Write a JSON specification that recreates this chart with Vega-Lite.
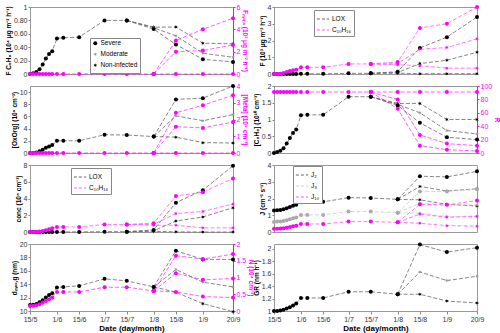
{
"$schema":"https://vega.github.io/schema/vega-lite/v6.json",
"padding":{"left":4,"top":2,"right":0,"bottom":0},
"config":{"font":"Liberation Sans","view":{"stroke":"#999999","strokeWidth":1},
"axis":{"labelFontSize":7,"titleFontSize":6.5,"titleFontWeight":"bold","grid":false,"tickSize":2,"tickColor":"#888888","domain":false,"labelColor":"#333333","titlePadding":2,"labelPadding":1,"labelFlush":false}},
"data":{"values":[
{"p":"a","k":"F","s":"All","d":"2021/05/15","v":0},{"p":"a","k":"F","s":"All","d":"2021/05/17","v":0.01},{"p":"a","k":"F","s":"All","d":"2021/05/19","v":0.03},{"p":"a","k":"F","s":"All","d":"2021/05/21","v":0.07},{"p":"a","k":"F","s":"All","d":"2021/05/23","v":0.14},{"p":"a","k":"F","s":"All","d":"2021/05/25","v":0.23},{"p":"a","k":"F","s":"All","d":"2021/05/27","v":0.30},{"p":"a","k":"F","s":"All","d":"2021/05/29","v":0.34},{"p":"a","k":"F","s":"All","d":"2021/06/01","v":0.53},{"p":"a","k":"F","s":"All","d":"2021/06/05","v":0.54},{"p":"a","k":"F","s":"All","d":"2021/06/15","v":0.55},{"p":"a","k":"F","s":"All","d":"2021/07/01","v":0.80},{"p":"a","k":"F","s":"All","d":"2021/07/15","v":0.80},
{"p":"a","k":"F","s":"Non-infected","d":"2021/07/15","v":0.80},{"p":"a","k":"F","s":"Non-infected","d":"2021/08/01","v":0.70},{"p":"a","k":"F","s":"Non-infected","d":"2021/08/15","v":0.70},{"p":"a","k":"F","s":"Non-infected","d":"2021/09/01","v":0.46},{"p":"a","k":"F","s":"Non-infected","d":"2021/09/20","v":0.45},
{"p":"a","k":"F","s":"Moderate","d":"2021/07/15","v":0.80},{"p":"a","k":"F","s":"Moderate","d":"2021/08/01","v":0.69},{"p":"a","k":"F","s":"Moderate","d":"2021/08/15","v":0.57},{"p":"a","k":"F","s":"Moderate","d":"2021/09/01","v":0.31},{"p":"a","k":"F","s":"Moderate","d":"2021/09/20","v":0.25},
{"p":"a","k":"F","s":"Severe","d":"2021/07/15","v":0.80},{"p":"a","k":"F","s":"Severe","d":"2021/08/01","v":0.67},{"p":"a","k":"F","s":"Severe","d":"2021/08/15","v":0.44},{"p":"a","k":"F","s":"Severe","d":"2021/09/01","v":0.22},{"p":"a","k":"F","s":"Severe","d":"2021/09/20","v":0.18},
{"p":"a","k":"M","s":"All","d":"2021/05/15","v":0},{"p":"a","k":"M","s":"All","d":"2021/05/17","v":0},{"p":"a","k":"M","s":"All","d":"2021/05/19","v":0},{"p":"a","k":"M","s":"All","d":"2021/05/21","v":0},{"p":"a","k":"M","s":"All","d":"2021/05/23","v":0},{"p":"a","k":"M","s":"All","d":"2021/05/25","v":0},{"p":"a","k":"M","s":"All","d":"2021/05/27","v":0},{"p":"a","k":"M","s":"All","d":"2021/05/29","v":0},{"p":"a","k":"M","s":"All","d":"2021/06/01","v":0},{"p":"a","k":"M","s":"All","d":"2021/06/05","v":0},{"p":"a","k":"M","s":"All","d":"2021/06/15","v":0},{"p":"a","k":"M","s":"All","d":"2021/07/01","v":0},{"p":"a","k":"M","s":"All","d":"2021/07/15","v":0},{"p":"a","k":"M","s":"All","d":"2021/08/01","v":0},
{"p":"a","k":"M","s":"Non-infected","d":"2021/08/01","v":0},{"p":"a","k":"M","s":"Non-infected","d":"2021/08/15","v":0},{"p":"a","k":"M","s":"Non-infected","d":"2021/09/01","v":0},{"p":"a","k":"M","s":"Non-infected","d":"2021/09/20","v":0},
{"p":"a","k":"M","s":"Moderate","d":"2021/08/01","v":0},{"p":"a","k":"M","s":"Moderate","d":"2021/08/15","v":2.0},{"p":"a","k":"M","s":"Moderate","d":"2021/09/01","v":2.1},{"p":"a","k":"M","s":"Moderate","d":"2021/09/20","v":2.6},
{"p":"a","k":"M","s":"Severe","d":"2021/08/01","v":0},{"p":"a","k":"M","s":"Severe","d":"2021/08/15","v":3.0},{"p":"a","k":"M","s":"Severe","d":"2021/09/01","v":4.0},{"p":"a","k":"M","s":"Severe","d":"2021/09/20","v":5.0},

{"p":"b","k":"LOX","s":"All","d":"2021/05/15","v":0},{"p":"b","k":"LOX","s":"All","d":"2021/05/17","v":0},{"p":"b","k":"LOX","s":"All","d":"2021/05/19","v":0},{"p":"b","k":"LOX","s":"All","d":"2021/05/21","v":0},{"p":"b","k":"LOX","s":"All","d":"2021/05/23","v":0},{"p":"b","k":"LOX","s":"All","d":"2021/05/25","v":0},{"p":"b","k":"LOX","s":"All","d":"2021/05/27","v":0},{"p":"b","k":"LOX","s":"All","d":"2021/05/29","v":0},{"p":"b","k":"LOX","s":"All","d":"2021/06/01","v":0.01},{"p":"b","k":"LOX","s":"All","d":"2021/06/05","v":0.01},{"p":"b","k":"LOX","s":"All","d":"2021/06/15","v":0.01},{"p":"b","k":"LOX","s":"All","d":"2021/07/01","v":0.04},{"p":"b","k":"LOX","s":"All","d":"2021/07/15","v":0.04},
{"p":"b","k":"LOX","s":"Non-infected","d":"2021/07/15","v":0.04},{"p":"b","k":"LOX","s":"Non-infected","d":"2021/08/01","v":0.05},{"p":"b","k":"LOX","s":"Non-infected","d":"2021/08/15","v":0.02},{"p":"b","k":"LOX","s":"Non-infected","d":"2021/09/01","v":0.02},{"p":"b","k":"LOX","s":"Non-infected","d":"2021/09/20","v":0.02},
{"p":"b","k":"LOX","s":"Moderate","d":"2021/07/15","v":0.04},{"p":"b","k":"LOX","s":"Moderate","d":"2021/08/01","v":0.09},{"p":"b","k":"LOX","s":"Moderate","d":"2021/08/15","v":0.62},{"p":"b","k":"LOX","s":"Moderate","d":"2021/09/01","v":0.82},{"p":"b","k":"LOX","s":"Moderate","d":"2021/09/20","v":1.3},
{"p":"b","k":"LOX","s":"Severe","d":"2021/07/15","v":0.04},{"p":"b","k":"LOX","s":"Severe","d":"2021/08/01","v":0.14},{"p":"b","k":"LOX","s":"Severe","d":"2021/08/15","v":1.55},{"p":"b","k":"LOX","s":"Severe","d":"2021/09/01","v":2.2},{"p":"b","k":"LOX","s":"Severe","d":"2021/09/20","v":3.4},
{"p":"b","k":"C₁₀H₁₆","s":"All","d":"2021/05/15","v":0},{"p":"b","k":"C₁₀H₁₆","s":"All","d":"2021/05/17","v":0},{"p":"b","k":"C₁₀H₁₆","s":"All","d":"2021/05/19","v":0.02},{"p":"b","k":"C₁₀H₁₆","s":"All","d":"2021/05/21","v":0.06},{"p":"b","k":"C₁₀H₁₆","s":"All","d":"2021/05/23","v":0.12},{"p":"b","k":"C₁₀H₁₆","s":"All","d":"2021/05/25","v":0.18},{"p":"b","k":"C₁₀H₁₆","s":"All","d":"2021/05/27","v":0.22},{"p":"b","k":"C₁₀H₁₆","s":"All","d":"2021/05/29","v":0.26},{"p":"b","k":"C₁₀H₁₆","s":"All","d":"2021/06/01","v":0.40},{"p":"b","k":"C₁₀H₁₆","s":"All","d":"2021/06/05","v":0.40},{"p":"b","k":"C₁₀H₁₆","s":"All","d":"2021/06/15","v":0.40},{"p":"b","k":"C₁₀H₁₆","s":"All","d":"2021/07/01","v":0.60},{"p":"b","k":"C₁₀H₁₆","s":"All","d":"2021/07/15","v":0.60},
{"p":"b","k":"C₁₀H₁₆","s":"Non-infected","d":"2021/07/15","v":0.60},{"p":"b","k":"C₁₀H₁₆","s":"Non-infected","d":"2021/08/01","v":0.55},{"p":"b","k":"C₁₀H₁₆","s":"Non-infected","d":"2021/08/15","v":0.5},{"p":"b","k":"C₁₀H₁₆","s":"Non-infected","d":"2021/09/01","v":0.35},{"p":"b","k":"C₁₀H₁₆","s":"Non-infected","d":"2021/09/20","v":0.35},
{"p":"b","k":"C₁₀H₁₆","s":"Moderate","d":"2021/07/15","v":0.60},{"p":"b","k":"C₁₀H₁₆","s":"Moderate","d":"2021/08/01","v":0.62},{"p":"b","k":"C₁₀H₁₆","s":"Moderate","d":"2021/08/15","v":1.48},{"p":"b","k":"C₁₀H₁₆","s":"Moderate","d":"2021/09/01","v":1.58},{"p":"b","k":"C₁₀H₁₆","s":"Moderate","d":"2021/09/20","v":2.1},
{"p":"b","k":"C₁₀H₁₆","s":"Severe","d":"2021/07/15","v":0.60},{"p":"b","k":"C₁₀H₁₆","s":"Severe","d":"2021/08/01","v":0.72},{"p":"b","k":"C₁₀H₁₆","s":"Severe","d":"2021/08/15","v":2.75},{"p":"b","k":"C₁₀H₁₆","s":"Severe","d":"2021/09/01","v":3.0},{"p":"b","k":"C₁₀H₁₆","s":"Severe","d":"2021/09/20","v":4.0},

{"p":"c","k":"O","s":"All","d":"2021/05/15","v":0},{"p":"c","k":"O","s":"All","d":"2021/05/17","v":0.02},{"p":"c","k":"O","s":"All","d":"2021/05/19","v":0.1},{"p":"c","k":"O","s":"All","d":"2021/05/21","v":0.3},{"p":"c","k":"O","s":"All","d":"2021/05/23","v":0.55},{"p":"c","k":"O","s":"All","d":"2021/05/25","v":0.85},{"p":"c","k":"O","s":"All","d":"2021/05/27","v":1.05},{"p":"c","k":"O","s":"All","d":"2021/05/29","v":1.3},{"p":"c","k":"O","s":"All","d":"2021/06/01","v":2.0},{"p":"c","k":"O","s":"All","d":"2021/06/05","v":2.0},{"p":"c","k":"O","s":"All","d":"2021/06/15","v":2.0},{"p":"c","k":"O","s":"All","d":"2021/07/01","v":3.0},{"p":"c","k":"O","s":"All","d":"2021/07/15","v":2.95},{"p":"c","k":"O","s":"All","d":"2021/08/01","v":2.7},
{"p":"c","k":"O","s":"Non-infected","d":"2021/08/01","v":2.7},{"p":"c","k":"O","s":"Non-infected","d":"2021/08/15","v":2.6},{"p":"c","k":"O","s":"Non-infected","d":"2021/09/01","v":1.7},{"p":"c","k":"O","s":"Non-infected","d":"2021/09/20","v":1.65},
{"p":"c","k":"O","s":"Moderate","d":"2021/08/01","v":2.7},{"p":"c","k":"O","s":"Moderate","d":"2021/08/15","v":6.1},{"p":"c","k":"O","s":"Moderate","d":"2021/09/01","v":5.3},{"p":"c","k":"O","s":"Moderate","d":"2021/09/20","v":6.3},
{"p":"c","k":"O","s":"Severe","d":"2021/08/01","v":2.7},{"p":"c","k":"O","s":"Severe","d":"2021/08/15","v":8.8},{"p":"c","k":"O","s":"Severe","d":"2021/09/01","v":9.0},{"p":"c","k":"O","s":"Severe","d":"2021/09/20","v":11.0},
{"p":"c","k":"M","s":"All","d":"2021/05/15","v":0},{"p":"c","k":"M","s":"All","d":"2021/05/17","v":0},{"p":"c","k":"M","s":"All","d":"2021/05/19","v":0},{"p":"c","k":"M","s":"All","d":"2021/05/21","v":0},{"p":"c","k":"M","s":"All","d":"2021/05/23","v":0},{"p":"c","k":"M","s":"All","d":"2021/05/25","v":0},{"p":"c","k":"M","s":"All","d":"2021/05/27","v":0},{"p":"c","k":"M","s":"All","d":"2021/05/29","v":0},{"p":"c","k":"M","s":"All","d":"2021/06/01","v":0},{"p":"c","k":"M","s":"All","d":"2021/06/05","v":0},{"p":"c","k":"M","s":"All","d":"2021/06/15","v":0},{"p":"c","k":"M","s":"All","d":"2021/07/01","v":0},{"p":"c","k":"M","s":"All","d":"2021/07/15","v":0},{"p":"c","k":"M","s":"All","d":"2021/08/01","v":0},
{"p":"c","k":"M","s":"Non-infected","d":"2021/08/01","v":0},{"p":"c","k":"M","s":"Non-infected","d":"2021/08/15","v":0},{"p":"c","k":"M","s":"Non-infected","d":"2021/09/01","v":0},{"p":"c","k":"M","s":"Non-infected","d":"2021/09/20","v":0},
{"p":"c","k":"M","s":"Moderate","d":"2021/08/01","v":0},{"p":"c","k":"M","s":"Moderate","d":"2021/08/15","v":1.57},{"p":"c","k":"M","s":"Moderate","d":"2021/09/01","v":1.5},{"p":"c","k":"M","s":"Moderate","d":"2021/09/20","v":1.85},
{"p":"c","k":"M","s":"Severe","d":"2021/08/01","v":0},{"p":"c","k":"M","s":"Severe","d":"2021/08/15","v":2.4},{"p":"c","k":"M","s":"Severe","d":"2021/09/01","v":2.85},{"p":"c","k":"M","s":"Severe","d":"2021/09/20","v":3.45},

{"p":"d","k":"C","s":"All","d":"2021/05/15","v":0},{"p":"d","k":"C","s":"All","d":"2021/05/17","v":0.03},{"p":"d","k":"C","s":"All","d":"2021/05/19","v":0.07},{"p":"d","k":"C","s":"All","d":"2021/05/21","v":0.14},{"p":"d","k":"C","s":"All","d":"2021/05/23","v":0.28},{"p":"d","k":"C","s":"All","d":"2021/05/25","v":0.45},{"p":"d","k":"C","s":"All","d":"2021/05/27","v":0.6},{"p":"d","k":"C","s":"All","d":"2021/05/29","v":0.7},{"p":"d","k":"C","s":"All","d":"2021/06/01","v":1.13},{"p":"d","k":"C","s":"All","d":"2021/06/05","v":1.14},{"p":"d","k":"C","s":"All","d":"2021/06/15","v":1.14},{"p":"d","k":"C","s":"All","d":"2021/07/01","v":1.68},{"p":"d","k":"C","s":"All","d":"2021/07/15","v":1.68},
{"p":"d","k":"C","s":"Non-infected","d":"2021/07/15","v":1.68},{"p":"d","k":"C","s":"Non-infected","d":"2021/08/01","v":1.48},{"p":"d","k":"C","s":"Non-infected","d":"2021/08/15","v":1.48},{"p":"d","k":"C","s":"Non-infected","d":"2021/09/01","v":1.0},{"p":"d","k":"C","s":"Non-infected","d":"2021/09/20","v":1.0},
{"p":"d","k":"C","s":"Moderate","d":"2021/07/15","v":1.68},{"p":"d","k":"C","s":"Moderate","d":"2021/08/01","v":1.45},{"p":"d","k":"C","s":"Moderate","d":"2021/08/15","v":1.2},{"p":"d","k":"C","s":"Moderate","d":"2021/09/01","v":0.67},{"p":"d","k":"C","s":"Moderate","d":"2021/09/20","v":0.57},
{"p":"d","k":"C","s":"Severe","d":"2021/07/15","v":1.68},{"p":"d","k":"C","s":"Severe","d":"2021/08/01","v":1.42},{"p":"d","k":"C","s":"Severe","d":"2021/08/15","v":0.9},{"p":"d","k":"C","s":"Severe","d":"2021/09/01","v":0.47},{"p":"d","k":"C","s":"Severe","d":"2021/09/20","v":0.4},
{"p":"d","k":"R","s":"All","d":"2021/05/15","v":91},{"p":"d","k":"R","s":"All","d":"2021/05/17","v":91},{"p":"d","k":"R","s":"All","d":"2021/05/19","v":91},{"p":"d","k":"R","s":"All","d":"2021/05/21","v":91},{"p":"d","k":"R","s":"All","d":"2021/05/23","v":91},{"p":"d","k":"R","s":"All","d":"2021/05/25","v":91},{"p":"d","k":"R","s":"All","d":"2021/05/27","v":91},{"p":"d","k":"R","s":"All","d":"2021/05/29","v":91},{"p":"d","k":"R","s":"All","d":"2021/06/01","v":91},{"p":"d","k":"R","s":"All","d":"2021/06/05","v":91},{"p":"d","k":"R","s":"All","d":"2021/06/15","v":91},{"p":"d","k":"R","s":"All","d":"2021/07/01","v":91},{"p":"d","k":"R","s":"All","d":"2021/07/15","v":91},
{"p":"d","k":"R","s":"Non-infected","d":"2021/07/15","v":91},{"p":"d","k":"R","s":"Non-infected","d":"2021/08/01","v":91},{"p":"d","k":"R","s":"Non-infected","d":"2021/08/15","v":91},{"p":"d","k":"R","s":"Non-infected","d":"2021/09/01","v":91},{"p":"d","k":"R","s":"Non-infected","d":"2021/09/20","v":91},
{"p":"d","k":"R","s":"Moderate","d":"2021/07/15","v":91},{"p":"d","k":"R","s":"Moderate","d":"2021/08/01","v":80},{"p":"d","k":"R","s":"Moderate","d":"2021/08/15","v":27},{"p":"d","k":"R","s":"Moderate","d":"2021/09/01","v":14},{"p":"d","k":"R","s":"Moderate","d":"2021/09/20","v":11},
{"p":"d","k":"R","s":"Severe","d":"2021/07/15","v":91},{"p":"d","k":"R","s":"Severe","d":"2021/08/01","v":66},{"p":"d","k":"R","s":"Severe","d":"2021/08/15","v":11},{"p":"d","k":"R","s":"Severe","d":"2021/09/01","v":5},{"p":"d","k":"R","s":"Severe","d":"2021/09/20","v":3},

{"p":"e","k":"LOX","s":"All","d":"2021/05/15","v":0},{"p":"e","k":"LOX","s":"All","d":"2021/05/17","v":0},{"p":"e","k":"LOX","s":"All","d":"2021/05/19","v":0},{"p":"e","k":"LOX","s":"All","d":"2021/05/21","v":0},{"p":"e","k":"LOX","s":"All","d":"2021/05/23","v":0},{"p":"e","k":"LOX","s":"All","d":"2021/05/25","v":0},{"p":"e","k":"LOX","s":"All","d":"2021/05/27","v":0},{"p":"e","k":"LOX","s":"All","d":"2021/05/29","v":0},{"p":"e","k":"LOX","s":"All","d":"2021/06/01","v":0.01},{"p":"e","k":"LOX","s":"All","d":"2021/06/05","v":0.01},{"p":"e","k":"LOX","s":"All","d":"2021/06/15","v":0.01},{"p":"e","k":"LOX","s":"All","d":"2021/07/01","v":0.04},{"p":"e","k":"LOX","s":"All","d":"2021/07/15","v":0.04},
{"p":"e","k":"LOX","s":"Non-infected","d":"2021/07/15","v":0.04},{"p":"e","k":"LOX","s":"Non-infected","d":"2021/08/01","v":0.08},{"p":"e","k":"LOX","s":"Non-infected","d":"2021/08/15","v":0.02},{"p":"e","k":"LOX","s":"Non-infected","d":"2021/09/01","v":0},{"p":"e","k":"LOX","s":"Non-infected","d":"2021/09/20","v":0},
{"p":"e","k":"LOX","s":"Moderate","d":"2021/07/15","v":0.04},{"p":"e","k":"LOX","s":"Moderate","d":"2021/08/01","v":0.15},{"p":"e","k":"LOX","s":"Moderate","d":"2021/08/15","v":1.3},{"p":"e","k":"LOX","s":"Moderate","d":"2021/09/01","v":1.8},{"p":"e","k":"LOX","s":"Moderate","d":"2021/09/20","v":2.9},
{"p":"e","k":"LOX","s":"Severe","d":"2021/07/15","v":0.04},{"p":"e","k":"LOX","s":"Severe","d":"2021/08/01","v":0.25},{"p":"e","k":"LOX","s":"Severe","d":"2021/08/15","v":3.5},{"p":"e","k":"LOX","s":"Severe","d":"2021/09/01","v":5.0},{"p":"e","k":"LOX","s":"Severe","d":"2021/09/20","v":7.9},
{"p":"e","k":"C₁₀H₁₆","s":"All","d":"2021/05/15","v":0},{"p":"e","k":"C₁₀H₁₆","s":"All","d":"2021/05/17","v":0},{"p":"e","k":"C₁₀H₁₆","s":"All","d":"2021/05/19","v":0.02},{"p":"e","k":"C₁₀H₁₆","s":"All","d":"2021/05/21","v":0.06},{"p":"e","k":"C₁₀H₁₆","s":"All","d":"2021/05/23","v":0.12},{"p":"e","k":"C₁₀H₁₆","s":"All","d":"2021/05/25","v":0.22},{"p":"e","k":"C₁₀H₁₆","s":"All","d":"2021/05/27","v":0.32},{"p":"e","k":"C₁₀H₁₆","s":"All","d":"2021/05/29","v":0.45},{"p":"e","k":"C₁₀H₁₆","s":"All","d":"2021/06/01","v":0.6},{"p":"e","k":"C₁₀H₁₆","s":"All","d":"2021/06/05","v":0.6},{"p":"e","k":"C₁₀H₁₆","s":"All","d":"2021/06/15","v":0.6},{"p":"e","k":"C₁₀H₁₆","s":"All","d":"2021/07/01","v":0.9},{"p":"e","k":"C₁₀H₁₆","s":"All","d":"2021/07/15","v":0.9},
{"p":"e","k":"C₁₀H₁₆","s":"Non-infected","d":"2021/07/15","v":0.9},{"p":"e","k":"C₁₀H₁₆","s":"Non-infected","d":"2021/08/01","v":0.8},{"p":"e","k":"C₁₀H₁₆","s":"Non-infected","d":"2021/08/15","v":0.8},{"p":"e","k":"C₁₀H₁₆","s":"Non-infected","d":"2021/09/01","v":0.5},{"p":"e","k":"C₁₀H₁₆","s":"Non-infected","d":"2021/09/20","v":0.5},
{"p":"e","k":"C₁₀H₁₆","s":"Moderate","d":"2021/07/15","v":0.9},{"p":"e","k":"C₁₀H₁₆","s":"Moderate","d":"2021/08/01","v":0.92},{"p":"e","k":"C₁₀H₁₆","s":"Moderate","d":"2021/08/15","v":2.2},{"p":"e","k":"C₁₀H₁₆","s":"Moderate","d":"2021/09/01","v":2.45},{"p":"e","k":"C₁₀H₁₆","s":"Moderate","d":"2021/09/20","v":3.35},
{"p":"e","k":"C₁₀H₁₆","s":"Severe","d":"2021/07/15","v":0.9},{"p":"e","k":"C₁₀H₁₆","s":"Severe","d":"2021/08/01","v":1.05},{"p":"e","k":"C₁₀H₁₆","s":"Severe","d":"2021/08/15","v":4.3},{"p":"e","k":"C₁₀H₁₆","s":"Severe","d":"2021/09/01","v":4.75},{"p":"e","k":"C₁₀H₁₆","s":"Severe","d":"2021/09/20","v":6.4},

{"p":"f","k":"J₂","s":"All","d":"2021/05/15","v":1.28},{"p":"f","k":"J₂","s":"All","d":"2021/05/17","v":1.3},{"p":"f","k":"J₂","s":"All","d":"2021/05/19","v":1.32},{"p":"f","k":"J₂","s":"All","d":"2021/05/21","v":1.36},{"p":"f","k":"J₂","s":"All","d":"2021/05/23","v":1.42},{"p":"f","k":"J₂","s":"All","d":"2021/05/25","v":1.5},{"p":"f","k":"J₂","s":"All","d":"2021/05/27","v":1.56},{"p":"f","k":"J₂","s":"All","d":"2021/05/29","v":1.62},{"p":"f","k":"J₂","s":"All","d":"2021/06/01","v":1.78},{"p":"f","k":"J₂","s":"All","d":"2021/06/05","v":1.8},{"p":"f","k":"J₂","s":"All","d":"2021/06/15","v":1.8},{"p":"f","k":"J₂","s":"All","d":"2021/07/01","v":2.05},{"p":"f","k":"J₂","s":"All","d":"2021/07/15","v":2.03},{"p":"f","k":"J₂","s":"All","d":"2021/08/01","v":1.95},
{"p":"f","k":"J₂","s":"Non-infected","d":"2021/08/01","v":1.95},{"p":"f","k":"J₂","s":"Non-infected","d":"2021/08/15","v":1.92},{"p":"f","k":"J₂","s":"Non-infected","d":"2021/09/01","v":1.65},{"p":"f","k":"J₂","s":"Non-infected","d":"2021/09/20","v":1.55},
{"p":"f","k":"J₂","s":"Moderate","d":"2021/08/01","v":1.95},{"p":"f","k":"J₂","s":"Moderate","d":"2021/08/15","v":2.72},{"p":"f","k":"J₂","s":"Moderate","d":"2021/09/01","v":2.45},{"p":"f","k":"J₂","s":"Moderate","d":"2021/09/20","v":2.58},
{"p":"f","k":"J₂","s":"Severe","d":"2021/08/01","v":1.95},{"p":"f","k":"J₂","s":"Severe","d":"2021/08/15","v":3.33},{"p":"f","k":"J₂","s":"Severe","d":"2021/09/01","v":3.29},{"p":"f","k":"J₂","s":"Severe","d":"2021/09/20","v":3.62},
{"p":"f","k":"J₃","s":"All","d":"2021/05/15","v":0.6},{"p":"f","k":"J₃","s":"All","d":"2021/05/17","v":0.62},{"p":"f","k":"J₃","s":"All","d":"2021/05/19","v":0.63},{"p":"f","k":"J₃","s":"All","d":"2021/05/21","v":0.66},{"p":"f","k":"J₃","s":"All","d":"2021/05/23","v":0.7},{"p":"f","k":"J₃","s":"All","d":"2021/05/25","v":0.76},{"p":"f","k":"J₃","s":"All","d":"2021/05/27","v":0.82},{"p":"f","k":"J₃","s":"All","d":"2021/05/29","v":0.87},{"p":"f","k":"J₃","s":"All","d":"2021/06/01","v":1.02},{"p":"f","k":"J₃","s":"All","d":"2021/06/05","v":1.02},{"p":"f","k":"J₃","s":"All","d":"2021/06/15","v":1.02},{"p":"f","k":"J₃","s":"All","d":"2021/07/01","v":1.22},{"p":"f","k":"J₃","s":"All","d":"2021/07/15","v":1.22},{"p":"f","k":"J₃","s":"All","d":"2021/08/01","v":1.15},
{"p":"f","k":"J₃","s":"Non-infected","d":"2021/08/01","v":1.15},{"p":"f","k":"J₃","s":"Non-infected","d":"2021/08/15","v":1.12},{"p":"f","k":"J₃","s":"Non-infected","d":"2021/09/01","v":0.92},{"p":"f","k":"J₃","s":"Non-infected","d":"2021/09/20","v":0.95},
{"p":"f","k":"J₃","s":"Moderate","d":"2021/08/01","v":1.15},{"p":"f","k":"J₃","s":"Moderate","d":"2021/08/15","v":1.72},{"p":"f","k":"J₃","s":"Moderate","d":"2021/09/01","v":1.62},{"p":"f","k":"J₃","s":"Moderate","d":"2021/09/20","v":1.62},
{"p":"f","k":"J₃","s":"Severe","d":"2021/08/01","v":1.15},{"p":"f","k":"J₃","s":"Severe","d":"2021/08/15","v":2.42},{"p":"f","k":"J₃","s":"Severe","d":"2021/09/01","v":2.42},{"p":"f","k":"J₃","s":"Severe","d":"2021/09/20","v":2.55},
{"p":"f","k":"J₁₀","s":"All","d":"2021/05/15","v":0.2},{"p":"f","k":"J₁₀","s":"All","d":"2021/05/17","v":0.2},{"p":"f","k":"J₁₀","s":"All","d":"2021/05/19","v":0.21},{"p":"f","k":"J₁₀","s":"All","d":"2021/05/21","v":0.23},{"p":"f","k":"J₁₀","s":"All","d":"2021/05/23","v":0.26},{"p":"f","k":"J₁₀","s":"All","d":"2021/05/25","v":0.3},{"p":"f","k":"J₁₀","s":"All","d":"2021/05/27","v":0.34},{"p":"f","k":"J₁₀","s":"All","d":"2021/05/29","v":0.38},{"p":"f","k":"J₁₀","s":"All","d":"2021/06/01","v":0.48},{"p":"f","k":"J₁₀","s":"All","d":"2021/06/05","v":0.48},{"p":"f","k":"J₁₀","s":"All","d":"2021/06/15","v":0.48},{"p":"f","k":"J₁₀","s":"All","d":"2021/07/01","v":0.62},{"p":"f","k":"J₁₀","s":"All","d":"2021/07/15","v":0.62},{"p":"f","k":"J₁₀","s":"All","d":"2021/08/01","v":0.58},
{"p":"f","k":"J₁₀","s":"Non-infected","d":"2021/08/01","v":0.58},{"p":"f","k":"J₁₀","s":"Non-infected","d":"2021/08/15","v":0.52},{"p":"f","k":"J₁₀","s":"Non-infected","d":"2021/09/01","v":0.38},{"p":"f","k":"J₁₀","s":"Non-infected","d":"2021/09/20","v":0.35},
{"p":"f","k":"J₁₀","s":"Moderate","d":"2021/08/01","v":0.58},{"p":"f","k":"J₁₀","s":"Moderate","d":"2021/08/15","v":1.07},{"p":"f","k":"J₁₀","s":"Moderate","d":"2021/09/01","v":0.88},{"p":"f","k":"J₁₀","s":"Moderate","d":"2021/09/20","v":0.93},
{"p":"f","k":"J₁₀","s":"Severe","d":"2021/08/01","v":0.58},{"p":"f","k":"J₁₀","s":"Severe","d":"2021/08/15","v":1.65},{"p":"f","k":"J₁₀","s":"Severe","d":"2021/09/01","v":1.62},{"p":"f","k":"J₁₀","s":"Severe","d":"2021/09/20","v":1.88},

{"p":"g","k":"D","s":"All","d":"2021/05/15","v":10.9},{"p":"g","k":"D","s":"All","d":"2021/05/17","v":10.95},{"p":"g","k":"D","s":"All","d":"2021/05/19","v":11.05},{"p":"g","k":"D","s":"All","d":"2021/05/21","v":11.3},{"p":"g","k":"D","s":"All","d":"2021/05/23","v":11.6},{"p":"g","k":"D","s":"All","d":"2021/05/25","v":12.0},{"p":"g","k":"D","s":"All","d":"2021/05/27","v":12.4},{"p":"g","k":"D","s":"All","d":"2021/05/29","v":12.65},{"p":"g","k":"D","s":"All","d":"2021/06/01","v":13.5},{"p":"g","k":"D","s":"All","d":"2021/06/05","v":13.6},{"p":"g","k":"D","s":"All","d":"2021/06/15","v":13.75},{"p":"g","k":"D","s":"All","d":"2021/07/01","v":14.8},{"p":"g","k":"D","s":"All","d":"2021/07/15","v":14.5},{"p":"g","k":"D","s":"All","d":"2021/08/01","v":13.6},
{"p":"g","k":"D","s":"Non-infected","d":"2021/08/01","v":13.6},{"p":"g","k":"D","s":"Non-infected","d":"2021/08/15","v":12.8},{"p":"g","k":"D","s":"Non-infected","d":"2021/09/01","v":11.1},{"p":"g","k":"D","s":"Non-infected","d":"2021/09/20","v":9.9},
{"p":"g","k":"D","s":"Moderate","d":"2021/08/01","v":13.6},{"p":"g","k":"D","s":"Moderate","d":"2021/08/15","v":16.2},{"p":"g","k":"D","s":"Moderate","d":"2021/09/01","v":14.3},{"p":"g","k":"D","s":"Moderate","d":"2021/09/20","v":13.6},
{"p":"g","k":"D","s":"Severe","d":"2021/08/01","v":13.6},{"p":"g","k":"D","s":"Severe","d":"2021/08/15","v":19.0},{"p":"g","k":"D","s":"Severe","d":"2021/09/01","v":17.7},{"p":"g","k":"D","s":"Severe","d":"2021/09/20","v":17.7},
{"p":"g","k":"N","s":"All","d":"2021/05/15","v":0.15},{"p":"g","k":"N","s":"All","d":"2021/05/17","v":0.16},{"p":"g","k":"N","s":"All","d":"2021/05/19","v":0.17},{"p":"g","k":"N","s":"All","d":"2021/05/21","v":0.2},{"p":"g","k":"N","s":"All","d":"2021/05/23","v":0.25},{"p":"g","k":"N","s":"All","d":"2021/05/25","v":0.3},{"p":"g","k":"N","s":"All","d":"2021/05/27","v":0.35},{"p":"g","k":"N","s":"All","d":"2021/05/29","v":0.4},{"p":"g","k":"N","s":"All","d":"2021/06/01","v":0.57},{"p":"g","k":"N","s":"All","d":"2021/06/05","v":0.57},{"p":"g","k":"N","s":"All","d":"2021/06/15","v":0.57},{"p":"g","k":"N","s":"All","d":"2021/07/01","v":0.71},{"p":"g","k":"N","s":"All","d":"2021/07/15","v":0.71},{"p":"g","k":"N","s":"All","d":"2021/08/01","v":0.6},
{"p":"g","k":"N","s":"Non-infected","d":"2021/08/01","v":0.6},{"p":"g","k":"N","s":"Non-infected","d":"2021/08/15","v":0.57},{"p":"g","k":"N","s":"Non-infected","d":"2021/09/01","v":0.43},{"p":"g","k":"N","s":"Non-infected","d":"2021/09/20","v":0.4},
{"p":"g","k":"N","s":"Moderate","d":"2021/08/01","v":0.6},{"p":"g","k":"N","s":"Moderate","d":"2021/08/15","v":1.13},{"p":"g","k":"N","s":"Moderate","d":"2021/09/01","v":0.93},{"p":"g","k":"N","s":"Moderate","d":"2021/09/20","v":0.97},
{"p":"g","k":"N","s":"Severe","d":"2021/08/01","v":0.6},{"p":"g","k":"N","s":"Severe","d":"2021/08/15","v":1.65},{"p":"g","k":"N","s":"Severe","d":"2021/09/01","v":1.55},{"p":"g","k":"N","s":"Severe","d":"2021/09/20","v":1.7},

{"p":"h","k":"G","s":"All","d":"2021/05/15","v":1.0},{"p":"h","k":"G","s":"All","d":"2021/05/17","v":1.0},{"p":"h","k":"G","s":"All","d":"2021/05/19","v":1.01},{"p":"h","k":"G","s":"All","d":"2021/05/21","v":1.02},{"p":"h","k":"G","s":"All","d":"2021/05/23","v":1.04},{"p":"h","k":"G","s":"All","d":"2021/05/25","v":1.06},{"p":"h","k":"G","s":"All","d":"2021/05/27","v":1.09},{"p":"h","k":"G","s":"All","d":"2021/05/29","v":1.12},{"p":"h","k":"G","s":"All","d":"2021/06/01","v":1.21},{"p":"h","k":"G","s":"All","d":"2021/06/05","v":1.21},{"p":"h","k":"G","s":"All","d":"2021/06/15","v":1.21},{"p":"h","k":"G","s":"All","d":"2021/07/01","v":1.31},{"p":"h","k":"G","s":"All","d":"2021/07/15","v":1.31},{"p":"h","k":"G","s":"All","d":"2021/08/01","v":1.27},
{"p":"h","k":"G","s":"Non-infected","d":"2021/08/01","v":1.27},{"p":"h","k":"G","s":"Non-infected","d":"2021/08/15","v":1.27},{"p":"h","k":"G","s":"Non-infected","d":"2021/09/01","v":1.16},{"p":"h","k":"G","s":"Non-infected","d":"2021/09/20","v":1.13},
{"p":"h","k":"G","s":"Moderate","d":"2021/08/01","v":1.27},{"p":"h","k":"G","s":"Moderate","d":"2021/08/15","v":1.63},{"p":"h","k":"G","s":"Moderate","d":"2021/09/01","v":1.49},{"p":"h","k":"G","s":"Moderate","d":"2021/09/20","v":1.56},
{"p":"h","k":"G","s":"Severe","d":"2021/08/01","v":1.27},{"p":"h","k":"G","s":"Severe","d":"2021/08/15","v":2.07},{"p":"h","k":"G","s":"Severe","d":"2021/09/01","v":1.95},{"p":"h","k":"G","s":"Severe","d":"2021/09/20","v":2.02}
]},
"columns":2,
"spacing":{"row":12,"column":41},
"bounds":"flush",
"resolve":{"scale":{"color":"independent","fill":"independent","stroke":"independent","shape":"independent"},"legend":{"color":"independent","fill":"independent","stroke":"independent","shape":"independent"}},
"concat":[
{"width":203,"height":67,"transform":[{"filter":"datum.p==='a'"}],
 "layer":[
  {"transform":[{"filter":"datum.k==='F'"}],
   "encoding":{"x":{"field":"d","type":"temporal","scale":{"domain":[{"year":2021,"month":5,"date":15},{"year":2021,"month":9,"date":20}],"nice":false},"axis":null},
     "y":{"field":"v","type":"quantitative","scale":{"domain":[0,1],"nice":false},"axis":{"values":[0,0.2,0.4,0.6,0.8,1],"labelExpr":"datum.value==0||datum.value==1?format(datum.value,'d'):format(datum.value,'.2f')","title":"F C₅H₈ (10⁴ μg m⁻² h⁻¹)"}}},
   "layer":[
    {"mark":{"type":"line","color":"#666666","strokeDash":[4,2],"strokeWidth":0.8},"encoding":{"detail":{"field":"s"}}},
    {"mark":{"type":"point","filled":true,"size":16,"opacity":1},"encoding":{
      "shape":{"field":"s","type":"nominal","scale":{"domain":["Severe","Moderate","Non-infected","All"],"range":["circle","M0,-1L0.22,-0.38L0.87,-0.5L0.44,0L0.87,0.5L0.22,0.38L0,1L-0.22,0.38L-0.87,0.5L-0.44,0L-0.87,-0.5L-0.22,-0.38Z","M0,-1L0.22,-0.38L0.87,-0.5L0.44,0L0.87,0.5L0.22,0.38L0,1L-0.22,0.38L-0.87,0.5L-0.44,0L-0.87,-0.5L-0.22,-0.38Z","circle"]},"legend":{"orient":"none","legendX":60,"legendY":31,"title":null,"values":["Severe","Moderate","Non-infected"],"strokeColor":"#888888","fillColor":"white","padding":2,"labelFontSize":6.5,"symbolSize":16,"rowPadding":0,"labelOffset":2}},
      "fill":{"field":"s","type":"nominal","scale":{"domain":["Severe","Moderate","Non-infected","All"],"range":["black","#999999","black","black"]},"legend":{"orient":"none","legendX":60,"legendY":31,"title":null,"values":["Severe","Moderate","Non-infected"],"strokeColor":"#888888","fillColor":"white","padding":2,"labelFontSize":6.5,"symbolSize":16,"rowPadding":0,"labelOffset":2}}}},
    {"data":{"values":[{}]},"mark":{"type":"text","align":"left","fontSize":7,"color":"#333333"},"encoding":{"x":{"datum":{"year":2021,"month":5,"date":20},"type":"temporal"},"y":{"datum":0.9,"type":"quantitative"},"text":{"value":"(a)"}}}
   ]},
  {"transform":[{"filter":"datum.k==='M'"}],
   "encoding":{"x":{"field":"d","type":"temporal","scale":{"domain":[{"year":2021,"month":5,"date":15},{"year":2021,"month":9,"date":20}],"nice":false},"axis":null},
     "y":{"field":"v","type":"quantitative","scale":{"domain":[0,6],"nice":false},"axis":{"orient":"right","values":[0,2,4,6],"title":"Fₘₑₜₐ (10² μg m⁻² h⁻¹)","titleColor":"#ff00ff","labelColor":"#ff00ff","domain":true,"domainColor":"#ff00ff","tickColor":"#ff00ff"}}},
   "layer":[
    {"mark":{"type":"line","color":"#ff00ff","strokeDash":[4,2],"strokeWidth":0.8,"opacity":0.8},"encoding":{"detail":{"field":"s"}}},
    {"mark":{"type":"point","filled":true,"size":16,"opacity":1,"color":"#ff00ff"},"encoding":{}}
   ]}
 ],
 "resolve":{"scale":{"y":"independent"}}},

{"width":203,"height":67,"transform":[{"filter":"datum.p==='b'"}],
 "encoding":{"x":{"field":"d","type":"temporal","scale":{"domain":[{"year":2021,"month":5,"date":15},{"year":2021,"month":9,"date":20}],"nice":false},"axis":null},
   "y":{"field":"v","type":"quantitative","scale":{"domain":[0,4],"nice":false},"axis":{"values":[0,1,2,3,4],"title":"F (10³ μg m⁻² h⁻¹)"}}},
 "layer":[
  {"mark":{"type":"line","strokeDash":[4,2],"strokeWidth":0.8},"encoding":{"stroke":{"field":"k","type":"nominal","scale":{"domain":["LOX","C₁₀H₁₆"],"range":["#666666","#ff55ff"]},"legend":{"orient":"none","legendX":40,"legendY":3,"title":null,"symbolType":"stroke","symbolDash":[3,2],"symbolStrokeWidth":1,"symbolSize":150,"strokeColor":"#888888","fillColor":"white","padding":2,"labelFontSize":6.5,"rowPadding":0,"labelOffset":2}},"detail":{"field":"s"}}},
  {"mark":{"type":"point","filled":true,"size":16,"opacity":1},"encoding":{"fill":{"field":"k","type":"nominal","scale":{"domain":["LOX","C₁₀H₁₆"],"range":["black","#ff00ff"]},"legend":null},
    "shape":{"field":"s","type":"nominal","scale":{"domain":["Severe","Moderate","Non-infected","All"],"range":["circle","M0,-1L0.22,-0.38L0.87,-0.5L0.44,0L0.87,0.5L0.22,0.38L0,1L-0.22,0.38L-0.87,0.5L-0.44,0L-0.87,-0.5L-0.22,-0.38Z","M0,-1L0.22,-0.38L0.87,-0.5L0.44,0L0.87,0.5L0.22,0.38L0,1L-0.22,0.38L-0.87,0.5L-0.44,0L-0.87,-0.5L-0.22,-0.38Z","circle"]},"legend":null}}},
  {"data":{"values":[{}]},"mark":{"type":"text","align":"left","fontSize":7,"color":"#333333"},"encoding":{"x":{"datum":{"year":2021,"month":5,"date":21},"type":"temporal"},"y":{"datum":3.45,"type":"quantitative"},"text":{"value":"(b)"}}}
 ]},

{"width":203,"height":67,"transform":[{"filter":"datum.p==='c'"}],
 "layer":[
  {"transform":[{"filter":"datum.k==='O'"}],
   "encoding":{"x":{"field":"d","type":"temporal","scale":{"domain":[{"year":2021,"month":5,"date":15},{"year":2021,"month":9,"date":20}],"nice":false},"axis":null},
     "y":{"field":"v","type":"quantitative","scale":{"domain":[0,11],"nice":false},"axis":{"values":[0,2,4,6,8,10],"title":"[OxOrg] (10⁶ cm⁻³)"}}},
   "layer":[
    {"mark":{"type":"line","color":"#666666","strokeDash":[4,2],"strokeWidth":0.8},"encoding":{"detail":{"field":"s"}}},
    {"mark":{"type":"point","filled":true,"size":16,"opacity":1},"encoding":{
      "shape":{"field":"s","type":"nominal","scale":{"domain":["Severe","Moderate","Non-infected","All"],"range":["circle","M0,-1L0.22,-0.38L0.87,-0.5L0.44,0L0.87,0.5L0.22,0.38L0,1L-0.22,0.38L-0.87,0.5L-0.44,0L-0.87,-0.5L-0.22,-0.38Z","M0,-1L0.22,-0.38L0.87,-0.5L0.44,0L0.87,0.5L0.22,0.38L0,1L-0.22,0.38L-0.87,0.5L-0.44,0L-0.87,-0.5L-0.22,-0.38Z","circle"]},"legend":null},
      "fill":{"field":"s","type":"nominal","scale":{"domain":["Severe","Moderate","Non-infected","All"],"range":["black","#999999","black","black"]},"legend":null}}},
    {"data":{"values":[{}]},"mark":{"type":"text","align":"left","fontSize":7,"color":"#333333"},"encoding":{"x":{"datum":{"year":2021,"month":5,"date":20},"type":"temporal"},"y":{"datum":9.7,"type":"quantitative"},"text":{"value":"(c)"}}}
   ]},
  {"transform":[{"filter":"datum.k==='M'"}],
   "encoding":{"x":{"field":"d","type":"temporal","scale":{"domain":[{"year":2021,"month":5,"date":15},{"year":2021,"month":9,"date":20}],"nice":false},"axis":null},
     "y":{"field":"v","type":"quantitative","scale":{"domain":[0,4],"nice":false},"axis":{"orient":"right","values":[0,1,2,3,4],"title":"[Meta] (10⁹ cm⁻³)","titleColor":"#ff00ff","labelColor":"#ff00ff","domain":true,"domainColor":"#ff00ff","tickColor":"#ff00ff"}}},
   "layer":[
    {"mark":{"type":"line","color":"#ff00ff","strokeDash":[4,2],"strokeWidth":0.8,"opacity":0.8},"encoding":{"detail":{"field":"s"}}},
    {"mark":{"type":"point","filled":true,"size":16,"opacity":1,"color":"#ff00ff"},"encoding":{}}
   ]}
 ],
 "resolve":{"scale":{"y":"independent"}}},

{"width":203,"height":67,"transform":[{"filter":"datum.p==='d'"}],
 "layer":[
  {"transform":[{"filter":"datum.k==='C'"}],
   "encoding":{"x":{"field":"d","type":"temporal","scale":{"domain":[{"year":2021,"month":5,"date":15},{"year":2021,"month":9,"date":20}],"nice":false},"axis":null},
     "y":{"field":"v","type":"quantitative","scale":{"domain":[0,2],"nice":false},"axis":{"values":[0,0.5,1,1.5,2],"format":"~g","title":"[C₅H₈] (10¹⁰ cm⁻³)"}}},
   "layer":[
    {"mark":{"type":"line","color":"#666666","strokeDash":[4,2],"strokeWidth":0.8},"encoding":{"detail":{"field":"s"}}},
    {"mark":{"type":"point","filled":true,"size":16,"opacity":1},"encoding":{
      "shape":{"field":"s","type":"nominal","scale":{"domain":["Severe","Moderate","Non-infected","All"],"range":["circle","M0,-1L0.22,-0.38L0.87,-0.5L0.44,0L0.87,0.5L0.22,0.38L0,1L-0.22,0.38L-0.87,0.5L-0.44,0L-0.87,-0.5L-0.22,-0.38Z","M0,-1L0.22,-0.38L0.87,-0.5L0.44,0L0.87,0.5L0.22,0.38L0,1L-0.22,0.38L-0.87,0.5L-0.44,0L-0.87,-0.5L-0.22,-0.38Z","circle"]},"legend":null},
      "fill":{"field":"s","type":"nominal","scale":{"domain":["Severe","Moderate","Non-infected","All"],"range":["black","#999999","black","black"]},"legend":null}}},
    {"data":{"values":[{}]},"mark":{"type":"text","align":"left","fontSize":7,"color":"#333333"},"encoding":{"x":{"datum":{"year":2021,"month":5,"date":21},"type":"temporal"},"y":{"datum":1.25,"type":"quantitative"},"text":{"value":"(d)"}}}
   ]},
  {"transform":[{"filter":"datum.k==='R'"}],
   "encoding":{"x":{"field":"d","type":"temporal","scale":{"domain":[{"year":2021,"month":5,"date":15},{"year":2021,"month":9,"date":20}],"nice":false},"axis":null},
     "y":{"field":"v","type":"quantitative","scale":{"domain":[0,100],"nice":false},"axis":{"orient":"right","values":[0,20,40,60,80,100],"title":"R","titleColor":"#ff00ff","labelColor":"#ff00ff","domain":true,"domainColor":"#ff00ff","tickColor":"#ff00ff"}}},
   "layer":[
    {"mark":{"type":"line","color":"#ff00ff","strokeDash":[4,2],"strokeWidth":0.8,"opacity":0.8},"encoding":{"detail":{"field":"s"}}},
    {"mark":{"type":"point","filled":true,"size":16,"opacity":1,"color":"#ff00ff"},"encoding":{}},
    {"data":{"values":[{}]},"mark":{"type":"text","align":"center","baseline":"middle","fontSize":6,"color":"#333333"},"encoding":{"x":{"datum":{"year":2021,"month":8,"date":3},"type":"temporal"},"y":{"datum":11,"type":"quantitative"},"text":{"value":"10.8"}}},
    {"data":{"values":[{}]},"mark":{"type":"text","align":"center","baseline":"middle","fontSize":6,"color":"#333333"},"encoding":{"x":{"datum":{"year":2021,"month":8,"date":23},"type":"temporal"},"y":{"datum":26,"type":"quantitative"},"text":{"value":"5.0"}}},
    {"data":{"values":[{}]},"mark":{"type":"text","align":"center","baseline":"middle","fontSize":6,"color":"#333333"},"encoding":{"x":{"datum":{"year":2021,"month":9,"date":11},"type":"temporal"},"y":{"datum":19,"type":"quantitative"},"text":{"value":"3.7"}}},
    {"data":{"values":[{}]},"mark":{"type":"rule","color":"black","strokeWidth":0.7},"encoding":{"x":{"datum":{"year":2021,"month":8,"date":9},"type":"temporal"},"x2":{"datum":{"year":2021,"month":8,"date":13}},"y":{"datum":11,"type":"quantitative"},"y2":{"datum":11}}},
    {"data":{"values":[{}]},"mark":{"type":"rule","color":"black","strokeWidth":0.7},"encoding":{"x":{"datum":{"year":2021,"month":8,"date":26},"type":"temporal"},"x2":{"datum":{"year":2021,"month":8,"date":29}},"y":{"datum":22,"type":"quantitative"},"y2":{"datum":11}}},
    {"data":{"values":[{}]},"mark":{"type":"rule","color":"black","strokeWidth":0.7},"encoding":{"x":{"datum":{"year":2021,"month":9,"date":14},"type":"temporal"},"x2":{"datum":{"year":2021,"month":9,"date":17}},"y":{"datum":16,"type":"quantitative"},"y2":{"datum":7}}}
   ]}
 ],
 "resolve":{"scale":{"y":"independent"}}},

{"width":203,"height":67,"transform":[{"filter":"datum.p==='e'"}],
 "encoding":{"x":{"field":"d","type":"temporal","scale":{"domain":[{"year":2021,"month":5,"date":15},{"year":2021,"month":9,"date":20}],"nice":false},"axis":null},
   "y":{"field":"v","type":"quantitative","scale":{"domain":[0,8],"nice":false},"axis":{"values":[0,2,4,6,8],"title":"conc (10⁸ cm⁻³)"}}},
 "layer":[
  {"mark":{"type":"line","strokeDash":[4,2],"strokeWidth":0.8},"encoding":{"stroke":{"field":"k","type":"nominal","scale":{"domain":["LOX","C₁₀H₁₆"],"range":["#666666","#ff55ff"]},"legend":{"orient":"none","legendX":41,"legendY":3,"title":null,"symbolType":"stroke","symbolDash":[3,2],"symbolStrokeWidth":1,"symbolSize":150,"strokeColor":"#888888","fillColor":"white","padding":2,"labelFontSize":6.5,"rowPadding":0,"labelOffset":2}},"detail":{"field":"s"}}},
  {"mark":{"type":"point","filled":true,"size":16,"opacity":1},"encoding":{"fill":{"field":"k","type":"nominal","scale":{"domain":["LOX","C₁₀H₁₆"],"range":["black","#ff00ff"]},"legend":null},
    "shape":{"field":"s","type":"nominal","scale":{"domain":["Severe","Moderate","Non-infected","All"],"range":["circle","M0,-1L0.22,-0.38L0.87,-0.5L0.44,0L0.87,0.5L0.22,0.38L0,1L-0.22,0.38L-0.87,0.5L-0.44,0L-0.87,-0.5L-0.22,-0.38Z","M0,-1L0.22,-0.38L0.87,-0.5L0.44,0L0.87,0.5L0.22,0.38L0,1L-0.22,0.38L-0.87,0.5L-0.44,0L-0.87,-0.5L-0.22,-0.38Z","circle"]},"legend":null}}},
  {"data":{"values":[{}]},"mark":{"type":"text","align":"left","fontSize":7,"color":"#333333"},"encoding":{"x":{"datum":{"year":2021,"month":5,"date":20},"type":"temporal"},"y":{"datum":7.0,"type":"quantitative"},"text":{"value":"(e)"}}}
 ]},

{"width":203,"height":67,"transform":[{"filter":"datum.p==='f'"}],
 "encoding":{"x":{"field":"d","type":"temporal","scale":{"domain":[{"year":2021,"month":5,"date":15},{"year":2021,"month":9,"date":20}],"nice":false},"axis":null},
   "y":{"field":"v","type":"quantitative","scale":{"domain":[0,4],"nice":false},"axis":{"values":[0,1,2,3,4],"title":"J (cm⁻³ s⁻¹)"}}},
 "layer":[
  {"mark":{"type":"line","strokeDash":[4,2],"strokeWidth":0.8},"encoding":{"stroke":{"field":"k","type":"nominal","scale":{"domain":["J₂","J₃","J₁₀"],"range":["#666666","#cccccc","#ff55ff"]},"legend":{"orient":"none","legendX":19,"legendY":1,"title":null,"symbolType":"stroke","symbolDash":[3,2],"symbolStrokeWidth":1,"symbolSize":150,"strokeColor":"#888888","fillColor":"white","padding":2,"labelFontSize":6.5,"rowPadding":0,"labelOffset":2}},"detail":{"field":"s"}}},
  {"mark":{"type":"point","filled":true,"size":16,"opacity":1},"encoding":{"fill":{"field":"k","type":"nominal","scale":{"domain":["J₂","J₃","J₁₀"],"range":["black","#aaaaaa","#ff00ff"]},"legend":null},
    "shape":{"field":"s","type":"nominal","scale":{"domain":["Severe","Moderate","Non-infected","All"],"range":["circle","M0,-1L0.22,-0.38L0.87,-0.5L0.44,0L0.87,0.5L0.22,0.38L0,1L-0.22,0.38L-0.87,0.5L-0.44,0L-0.87,-0.5L-0.22,-0.38Z","M0,-1L0.22,-0.38L0.87,-0.5L0.44,0L0.87,0.5L0.22,0.38L0,1L-0.22,0.38L-0.87,0.5L-0.44,0L-0.87,-0.5L-0.22,-0.38Z","circle"]},"legend":null}}},
  {"data":{"values":[{}]},"mark":{"type":"text","align":"left","fontSize":7,"color":"#333333"},"encoding":{"x":{"datum":{"year":2021,"month":5,"date":21},"type":"temporal"},"y":{"datum":3.55,"type":"quantitative"},"text":{"value":"(f)"}}}
 ]},

{"width":203,"height":67,"transform":[{"filter":"datum.p==='g'"}],
 "layer":[
  {"transform":[{"filter":"datum.k==='D'"}],
   "encoding":{"x":{"field":"d","type":"temporal","scale":{"domain":[{"year":2021,"month":5,"date":15},{"year":2021,"month":9,"date":20}],"nice":false},"axis":{"values":[{"year":2021,"month":5,"date":15},{"year":2021,"month":6,"date":1},{"year":2021,"month":6,"date":15},{"year":2021,"month":7,"date":1},{"year":2021,"month":7,"date":15},{"year":2021,"month":8,"date":1},{"year":2021,"month":8,"date":15},{"year":2021,"month":9,"date":1},{"year":2021,"month":9,"date":20}],"format":"%-d/%-m","title":"Date (day/month)","tickSize":3,"labelPadding":1,"titleFontSize":8,"titlePadding":2}},
     "y":{"field":"v","type":"quantitative","scale":{"domain":[10,20],"nice":false,"zero":false},"axis":{"values":[10,12,14,16,18,20],"title":"dₘₐₓ,g (nm)"}}},
   "layer":[
    {"mark":{"type":"line","color":"#666666","strokeDash":[4,2],"strokeWidth":0.8},"encoding":{"detail":{"field":"s"}}},
    {"mark":{"type":"point","filled":true,"size":16,"opacity":1},"encoding":{
      "shape":{"field":"s","type":"nominal","scale":{"domain":["Severe","Moderate","Non-infected","All"],"range":["circle","M0,-1L0.22,-0.38L0.87,-0.5L0.44,0L0.87,0.5L0.22,0.38L0,1L-0.22,0.38L-0.87,0.5L-0.44,0L-0.87,-0.5L-0.22,-0.38Z","M0,-1L0.22,-0.38L0.87,-0.5L0.44,0L0.87,0.5L0.22,0.38L0,1L-0.22,0.38L-0.87,0.5L-0.44,0L-0.87,-0.5L-0.22,-0.38Z","circle"]},"legend":null},
      "fill":{"field":"s","type":"nominal","scale":{"domain":["Severe","Moderate","Non-infected","All"],"range":["black","#999999","black","black"]},"legend":null}}},
    {"data":{"values":[{}]},"mark":{"type":"text","align":"left","fontSize":7,"color":"#333333"},"encoding":{"x":{"datum":{"year":2021,"month":5,"date":20},"type":"temporal"},"y":{"datum":18.95,"type":"quantitative"},"text":{"value":"(g)"}}}
   ]},
  {"transform":[{"filter":"datum.k==='N'"}],
   "encoding":{"x":{"field":"d","type":"temporal","scale":{"domain":[{"year":2021,"month":5,"date":15},{"year":2021,"month":9,"date":20}],"nice":false},"axis":{"values":[{"year":2021,"month":5,"date":15},{"year":2021,"month":6,"date":1},{"year":2021,"month":6,"date":15},{"year":2021,"month":7,"date":1},{"year":2021,"month":7,"date":15},{"year":2021,"month":8,"date":1},{"year":2021,"month":8,"date":15},{"year":2021,"month":9,"date":1},{"year":2021,"month":9,"date":20}],"format":"%-d/%-m","title":"Date (day/month)","tickSize":3,"labelPadding":1,"titleFontSize":8,"titlePadding":2}},
     "y":{"field":"v","type":"quantitative","scale":{"domain":[0,2],"nice":false},"axis":{"orient":"right","values":[0,0.5,1,1.5,2],"format":"~g","title":"N (10⁴ cm⁻³)","titleColor":"#ff00ff","labelColor":"#ff00ff","domain":true,"domainColor":"#ff00ff","tickColor":"#ff00ff"}}},
   "layer":[
    {"mark":{"type":"line","color":"#ff00ff","strokeDash":[4,2],"strokeWidth":0.8,"opacity":0.8},"encoding":{"detail":{"field":"s"}}},
    {"mark":{"type":"point","filled":true,"size":16,"opacity":1,"color":"#ff00ff"},"encoding":{}}
   ]}
 ],
 "resolve":{"scale":{"y":"independent"}}},

{"width":203,"height":67,"transform":[{"filter":"datum.p==='h'"}],
 "encoding":{"x":{"field":"d","type":"temporal","scale":{"domain":[{"year":2021,"month":5,"date":15},{"year":2021,"month":9,"date":20}],"nice":false},"axis":{"values":[{"year":2021,"month":5,"date":15},{"year":2021,"month":6,"date":1},{"year":2021,"month":6,"date":15},{"year":2021,"month":7,"date":1},{"year":2021,"month":7,"date":15},{"year":2021,"month":8,"date":1},{"year":2021,"month":8,"date":15},{"year":2021,"month":9,"date":1},{"year":2021,"month":9,"date":20}],"format":"%-d/%-m","title":"Date (day/month)","tickSize":3,"labelPadding":1,"titleFontSize":8,"titlePadding":2}},
   "y":{"field":"v","type":"quantitative","scale":{"domain":[1,2.08],"nice":false,"zero":false},"axis":{"values":[1,1.2,1.4,1.6,1.8,2],"format":"~g","title":"GR (nm h⁻¹)"}}},
 "layer":[
  {"mark":{"type":"line","color":"#666666","strokeDash":[4,2],"strokeWidth":0.8},"encoding":{"detail":{"field":"s"}}},
  {"mark":{"type":"point","filled":true,"size":16,"opacity":1},"encoding":{
    "shape":{"field":"s","type":"nominal","scale":{"domain":["Severe","Moderate","Non-infected","All"],"range":["circle","M0,-1L0.22,-0.38L0.87,-0.5L0.44,0L0.87,0.5L0.22,0.38L0,1L-0.22,0.38L-0.87,0.5L-0.44,0L-0.87,-0.5L-0.22,-0.38Z","M0,-1L0.22,-0.38L0.87,-0.5L0.44,0L0.87,0.5L0.22,0.38L0,1L-0.22,0.38L-0.87,0.5L-0.44,0L-0.87,-0.5L-0.22,-0.38Z","circle"]},"legend":null},
    "fill":{"field":"s","type":"nominal","scale":{"domain":["Severe","Moderate","Non-infected","All"],"range":["black","#999999","black","black"]},"legend":null}}},
  {"data":{"values":[{}]},"mark":{"type":"text","align":"left","fontSize":7,"color":"#333333"},"encoding":{"x":{"datum":{"year":2021,"month":5,"date":21},"type":"temporal"},"y":{"datum":1.95,"type":"quantitative"},"text":{"value":"(h)"}}}
 ]}
]
}
